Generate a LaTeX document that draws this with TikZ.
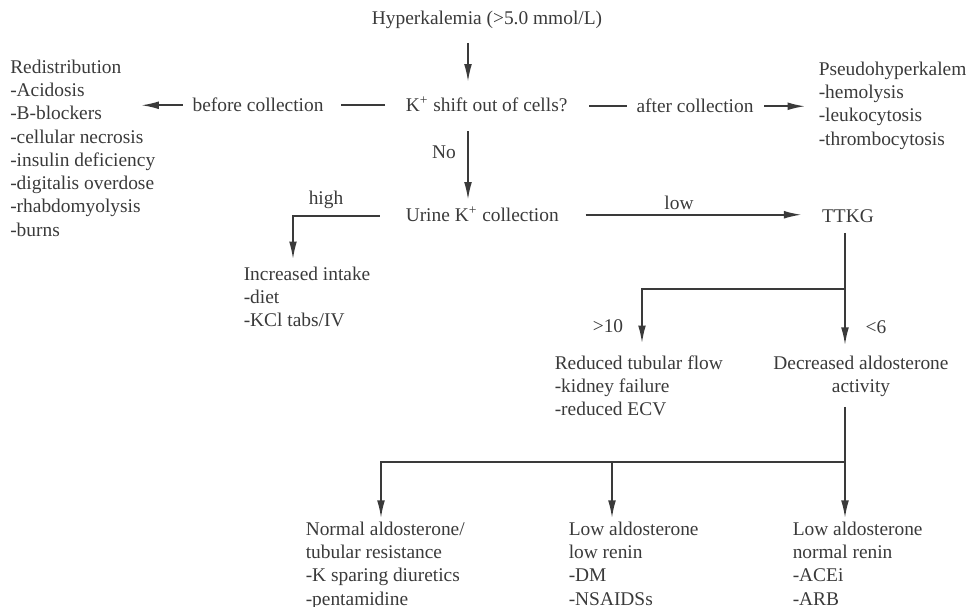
\documentclass[tikz,border=0pt]{standalone}
\usepackage{fontspec}
\setmainfont{Liberation Serif}
\usepackage{tikz}
\usetikzlibrary{arrows.meta}
\definecolor{ink}{RGB}{58,58,58}

\begin{document}
\begin{tikzpicture}[x=0.5155pt,y=-0.5155pt,>={Latex[length=9pt,width=4pt]},
        color=ink,line width=0.8pt,
        every node/.style={inner sep=0pt},
        lbl/.style={anchor=base},
        lst/.style={anchor=north west,align=left}]
        \useasboundingbox (0,0) rectangle (966,607);

        \node[lbl] (hyper) at (487,25) {Hyperkalemia (>5.0 mmol/L)};
        \node[lbl,anchor=base west] (shift) at (405,112) {K\textsuperscript{+} shift out of cells?};
        \node[lbl] (before) at (258,112) {before collection};
        \node[lbl] (after) at (695,113) {after collection};
        \node[lst] (redis) at (9.5,59) {Redistribution\\-Acidosis\\-B-blockers\\-cellular necrosis\\-insulin deficiency\\-digitalis overdose\\-rhabdomyolysis\\-burns};
        \node[lst] (pseudo) at (818,61) {Pseudohyperkalem\\-hemolysis\\-leukocytosis\\-thrombocytosis};
        \node[lbl] (no) at (444,159) {No};
        \node[lbl,anchor=base west] (urine) at (405,222) {Urine K\textsuperscript{+} collection};
        \node[lbl] (high) at (326,205) {high};
        \node[lbl] (low) at (679,210) {low};
        \node[lbl] (ttkg) at (848,223) {TTKG};
        \node[lst] (intake) at (243,266) {Increased intake\\-diet\\-KCl tabs/IV};
        \node[lbl] (gt) at (608,333) {>10};
        \node[lbl] (lt) at (876,334) {<6};
        \node[lst] (reduced) at (554,355) {Reduced tubular flow\\-kidney failure\\-reduced ECV};
        \node[anchor=north,align=center] (decreased) at (861,355) {Decreased aldosterone\\activity};
        \node[lst] (normal) at (305,521) {Normal aldosterone/\\tubular resistance\\-K sparing diuretics\\-pentamidine};
        \node[lst] (lowlow) at (568,521) {Low aldosterone\\low renin\\-DM\\-NSAIDSs};
        \node[lst] (lownorm) at (792,521) {Low aldosterone\\normal renin\\-ACEi\\-ARB};

        \coordinate (hi) at (293,216);
        \coordinate (tsplit) at (845,289);
        \coordinate (lsplit) at (642,289);
        \coordinate (bsplit) at (845,462);
        \coordinate (b1) at (381,462);
        \coordinate (b2) at (612,462);

        \path[draw,->,shorten <=6.6pt,shorten >=7.7pt] (hyper.south -| 468,0) -- (shift.north -| 468,0);
        \path[draw,->,shorten <=9.3pt,shorten >=3.6pt] (shift.south -| 468,0) -- (urine.north -| 468,0);
        \path[draw,shorten <=10.3pt,shorten >=8.8pt] (before.east -| shift.west) -- (before.east);
        \path[draw,->,shorten <=4.6pt,shorten >=-7.5pt] (before.west) -- (before.west -| redis.east);
        \path[draw,shorten <=10.8pt,shorten >=4.6pt] (after.west -| shift.east) -- (after.west);
        \path[draw,->,shorten <=5.2pt,shorten >=6.7pt] (after.east) -- (after.east -| pseudo.west);
        \path[draw,->,shorten <=12.9pt,shorten >=3.6pt] (hi -| urine.west) -- (hi) -- (hi |- intake.north);
        \path[draw,->,shorten <=13.4pt,shorten >=10.3pt] (urine.east) -- (urine.east -| ttkg.west);
        \path[draw,shorten <=4.6pt] (tsplit |- ttkg.south) -- (tsplit);
        \path[draw,->,shorten >=6.2pt] (tsplit) -- (lsplit) -- (lsplit |- reduced.north);
        \path[draw,->,shorten >=5.2pt] (tsplit) -- (tsplit |- decreased.north);
        \path[draw,shorten <=4.8pt] (bsplit |- decreased.south) -- (bsplit);
        \path[draw,->,shorten >=1.6pt] (bsplit) -- (b1) -- (b1 |- normal.north);
        \path[draw,->,shorten >=1.6pt] (b2) -- (b2 |- lowlow.north);
        \path[draw,->,shorten >=1.6pt] (bsplit) -- (bsplit |- lownorm.north);
      \end{tikzpicture}
\end{document}
